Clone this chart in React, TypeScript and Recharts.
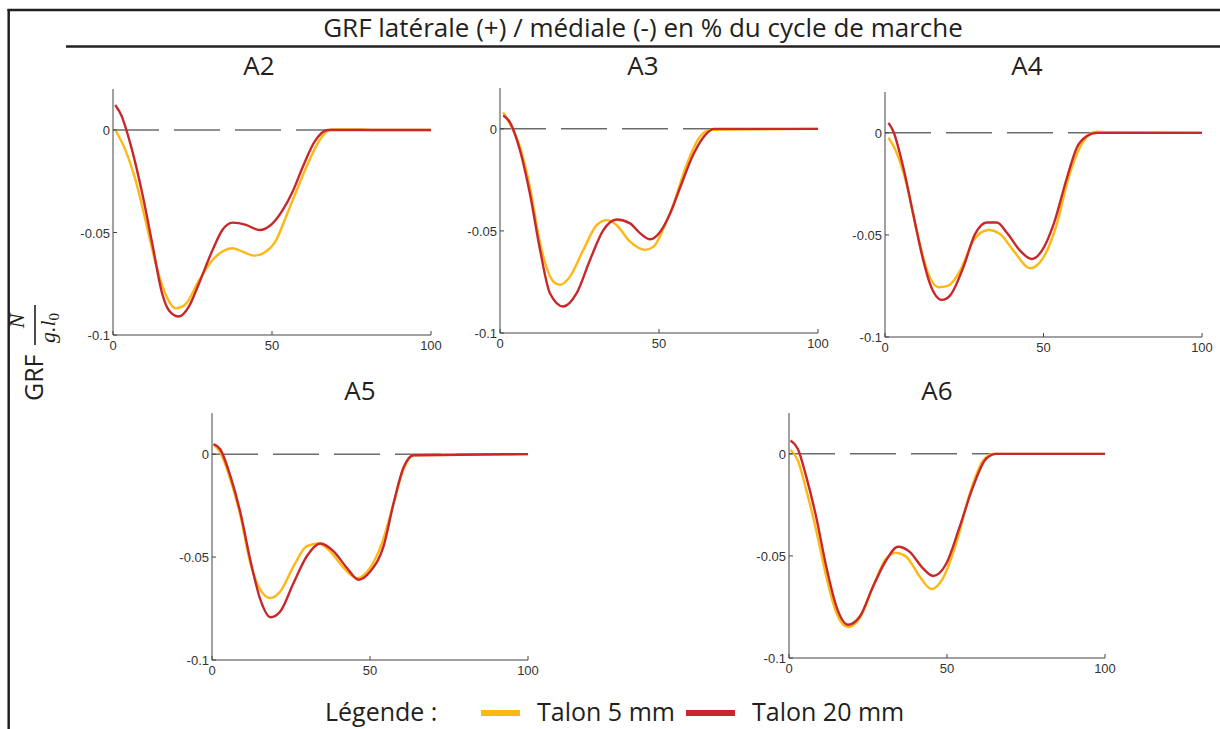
import React from "react";
import { LineChart, Line, XAxis, YAxis, ReferenceLine } from "recharts";

// values: [% gait cycle, GRF]
const A2_TALON5: [number, number][] = [
  [0.7, 0], [3.9, -0.0098], [7, -0.024], [10.2, -0.044], [13.4, -0.065], [16.5, -0.08],
  [19.7, -0.087], [22.8, -0.085], [27, -0.0735], [31.3, -0.0634], [34.4, -0.0593],
  [37.6, -0.0577], [40.7, -0.0593], [44.4, -0.0613], [48.1, -0.0593], [51.3, -0.0537],
  [54.4, -0.0423], [57.6, -0.03], [61.3, -0.0163], [65, -0.0049], [68.6, 0.0003],
  [78, 0.0003], [82, 0], [100, 0],
];
const A2_TALON20: [number, number][] = [
  [0.7, 0.0122], [2.8, 0.0065], [4.2, 0], [6, -0.0098], [9.2, -0.031], [12.3, -0.055],
  [15.5, -0.08], [17.6, -0.088], [20.7, -0.091], [23.9, -0.086], [27, -0.075],
  [31.3, -0.0586], [34.4, -0.0488], [37.6, -0.0452], [41.8, -0.0463], [46, -0.0488],
  [50.2, -0.0455], [53.4, -0.039], [56.5, -0.03], [59.7, -0.0179], [63.4, -0.0057],
  [67.6, 0], [100, 0],
];
const A3_TALON5: [number, number][] = [
  [1, 0.0081], [3.1, 0.0024], [6.3, -0.009], [9.4, -0.0285], [12.6, -0.056], [16.8, -0.0748],
  [18.9, -0.0764], [22, -0.0724], [26.2, -0.0593], [30.4, -0.0472], [33.6, -0.0447],
  [36.7, -0.0472], [40.9, -0.0553], [45.6, -0.0593], [48.3, -0.0577], [51.4, -0.0488],
  [54.6, -0.0366], [58.8, -0.0171], [62.4, -0.0049], [66.1, -0.0005], [100, 0],
];
const A3_TALON20: [number, number][] = [
  [1, 0.0065], [3.1, 0.0033], [6.3, -0.0106], [9.4, -0.0317], [12.6, -0.0593], [15.7, -0.0805],
  [19.9, -0.087], [24.1, -0.0805], [28.3, -0.0642], [32.5, -0.0496], [36.7, -0.0444],
  [40.9, -0.0463], [44.1, -0.0512], [47.2, -0.0541], [50.4, -0.0504], [53.5, -0.0415],
  [56.7, -0.0285], [60.9, -0.0122], [65.1, -0.0021], [67.2, 0], [100, 0],
];
const A4_TALON5: [number, number][] = [
  [1.1, -0.0024], [3.2, -0.0081], [6.8, -0.0252], [10, -0.048], [13.7, -0.0691],
  [16.8, -0.0756], [20, -0.0748], [23.7, -0.0675], [27.9, -0.0528], [32.6, -0.0476],
  [36.3, -0.0496], [40.5, -0.0577], [45.8, -0.0663], [50, -0.061], [54.2, -0.0447],
  [57.9, -0.022], [62.6, -0.0041], [66.8, 0.0005], [70, 0.0003], [100, 0],
];
const A4_TALON20: [number, number][] = [
  [1.1, 0.0049], [2.6, 0.0008], [5.8, -0.0171], [8.9, -0.0398], [12.1, -0.0626],
  [14.2, -0.074], [17.9, -0.0818], [20.5, -0.0797], [24.7, -0.0659], [28.4, -0.0496],
  [32.1, -0.0439], [35.3, -0.0439], [38.4, -0.0488], [42.6, -0.0577], [46.3, -0.0618],
  [49.5, -0.0577], [53.2, -0.0447], [57.4, -0.022], [60.5, -0.0073], [63.7, -0.0016],
  [66.8, 0], [100, 0],
];
const A5_TALON5: [number, number][] = [
  [0.5, 0.0049], [2.6, 0.0008], [5.8, -0.0122], [9, -0.03], [12.1, -0.0528], [15.3, -0.0659],
  [18.5, -0.0699], [21.6, -0.0667], [25.8, -0.0545], [30, -0.0447], [33.8, -0.0434],
  [37.4, -0.0472], [41.7, -0.0553], [45.9, -0.0602], [49.6, -0.0561], [53.8, -0.0431],
  [57.5, -0.0236], [60.6, -0.0073], [63.8, -0.0005], [100, 0],
];
const A5_TALON20: [number, number][] = [
  [0.5, 0.0049], [2.6, 0.0024], [5.8, -0.0106], [9, -0.0285], [12.1, -0.0512], [15.3, -0.0707],
  [18.5, -0.0792], [21.6, -0.0764], [25.8, -0.0626], [30, -0.0496], [34.3, -0.0434],
  [38.5, -0.0472], [42.7, -0.0553], [46.4, -0.061], [50.1, -0.0569], [54.3, -0.0447],
  [57.5, -0.0236], [60.6, -0.0065], [63.8, -0.0005], [100, 0],
];
const A6_TALON5: [number, number][] = [
  [0.5, 0.002], [2.8, -0.0033], [5.5, -0.0179], [8.6, -0.0374], [11.8, -0.0602], [15, -0.078],
  [18.7, -0.0849], [22.4, -0.0805], [26.6, -0.065], [30.8, -0.0512], [33.9, -0.0485],
  [37.1, -0.0504], [41.4, -0.0602], [45, -0.0662], [48.7, -0.061], [52.9, -0.0439],
  [57.2, -0.0195], [61.4, -0.0033], [64.6, 0], [100, 0],
];
const A6_TALON20: [number, number][] = [
  [0.5, 0.0065], [2.8, 0.0024], [5.5, -0.0114], [8.6, -0.0309], [11.8, -0.0553], [15, -0.0748],
  [18.7, -0.0837], [22.4, -0.0797], [26.6, -0.065], [30.8, -0.052], [34.5, -0.0455],
  [38.2, -0.048], [42.4, -0.0561], [45.6, -0.0598], [49.8, -0.0537], [54, -0.0358],
  [58.2, -0.0163], [62.4, -0.0024], [65.6, 0], [100, 0],
];

const X_TICKS = [0, 50, 100];
const Y_TICKS = [-0.1, -0.05, 0];
const TITLE = "GRF latérale (+) / médiale (-) en % du cycle de marche";
const LEGEND_LABELS = ["Talon 5 mm", "Talon 20 mm"];

const YELLOW = "#FDB813";
const RED = "#C8282B";
const AXIS = "#444";
const INK = "#231F20";
const FONT = "'Open Sans', sans-serif";
const MATH = "'Liberation Serif', 'DejaVu Serif', serif";

const toPoints = (arr: [number, number][]) => arr.map(([x, y]) => ({ x, y }));

const XTick = (props: any) => {
  const { x, y, payload } = props;
  return (
    <g>
      <line x1={x} x2={x} y1={y} y2={y - 4} stroke={AXIS} />
      <text x={x} y={y + 15} textAnchor="middle" fontSize={13} fill="#333" fontFamily="'Liberation Sans', Arial">
        {payload.value}
      </text>
    </g>
  );
};

const YTick = (props: any) => {
  const { x, y, payload } = props;
  return (
    <g>
      <line x1={x} x2={x + 4} y1={y} y2={y} stroke={AXIS} />
      <text x={x - 3} y={y + 5} textAnchor="end" fontSize={13} fill="#333" fontFamily="'Liberation Sans', Arial">
        {String(payload.value)}
      </text>
    </g>
  );
};

const ML = 60;
const MT = 10;
const MR = 12;
const MB = 30;

const Panel: React.FC<{
  left: number;
  top: number;
  w: number;
  h: number;
  talon5: [number, number][];
  talon20: [number, number][];
}> = ({ left, top, w, h, talon5, talon20 }) => (
  <div style={{ position: "absolute", left: left - ML, top: top - MT }}>
    <LineChart width={w + ML + MR} height={h + MT + MB} margin={{ top: MT, right: MR, left: 0, bottom: 0 }}>
      <XAxis
        type="number"
        dataKey="x"
        domain={[0, 100]}
        ticks={X_TICKS}
        tick={XTick}
        tickSize={0}
        tickMargin={0}
        tickLine={false}
        height={MB}
        stroke={AXIS}
        allowDataOverflow
      />
      <YAxis
        type="number"
        dataKey="y"
        domain={[-0.1, 0.02]}
        ticks={Y_TICKS}
        tick={YTick}
        tickSize={0}
        tickMargin={0}
        tickLine={false}
        width={ML}
        stroke={AXIS}
        allowDataOverflow
      />
      <ReferenceLine y={0} stroke="#222" strokeWidth={1} strokeDasharray="46 15" />
      <Line data={toPoints(talon5)} dataKey="y" type="monotone" stroke={YELLOW} strokeWidth={2.4} dot={false} isAnimationActive={false} />
      <Line data={toPoints(talon20)} dataKey="y" type="monotone" stroke={RED} strokeWidth={2.4} dot={false} isAnimationActive={false} />
    </LineChart>
  </div>
);

export default function App() {
  return (
    <div style={{ position: "absolute", left: 0, top: 0, width: 1220, height: 729, background: "#fff", overflow: "hidden" }}>
      <svg width={1220} height={729} style={{ position: "absolute", left: 0, top: 0 }} fontFamily={FONT}>
        <line x1={8.7} x2={8.7} y1={9} y2={729} stroke={INK} strokeWidth={2.5} />
        <line x1={7.5} x2={1220} y1={10} y2={10} stroke={INK} strokeWidth={2.3} />
        <line x1={66} x2={1220} y1={46.5} y2={46.5} stroke={INK} strokeWidth={2.3} />
        <text x={643} y={37} textAnchor="middle" fontSize={26} fill={INK}>{TITLE}</text>
        <text x={259} y={75} textAnchor="middle" fontSize={26} fill={INK}>A2</text>
        <text x={643} y={75} textAnchor="middle" fontSize={26} fill={INK}>A3</text>
        <text x={1027} y={75} textAnchor="middle" fontSize={26} fill={INK}>A4</text>
        <text x={360} y={400} textAnchor="middle" fontSize={26} fill={INK}>A5</text>
        <text x={937} y={400} textAnchor="middle" fontSize={26} fill={INK}>A6</text>
        <g transform="translate(43, 401) rotate(-90)">
          <text x={0} y={0} fontSize={25} fill={INK}>GRF</text>
          <line x1={56} x2={96} y1={-8} y2={-8} stroke={INK} strokeWidth={1.6} />
          <text x={80} y={-19} textAnchor="middle" fontSize={22} fontStyle="italic" fontFamily={MATH} fill={INK}>N</text>
          <text x={73} y={12} textAnchor="middle" fontSize={22} fontStyle="italic" fontFamily={MATH} fill={INK}>
            g.l<tspan fontSize={15} dy={4} fontStyle="normal">0</tspan>
          </text>
        </g>
        <text x={325} y={721} fontSize={25} fill={INK}>Légende :</text>
        <line x1={481} x2={520} y1={713} y2={713} stroke={YELLOW} strokeWidth={6} />
        <text x={537} y={721} fontSize={25} fill={INK}>{LEGEND_LABELS[0]}</text>
        <line x1={686} x2={735} y1={713} y2={713} stroke={RED} strokeWidth={6} />
        <text x={752} y={721} fontSize={25} fill={INK}>{LEGEND_LABELS[1]}</text>
      </svg>
      <Panel left={113} top={89} w={318} h={246} talon5={A2_TALON5} talon20={A2_TALON20} />
      <Panel left={500} top={88} w={318} h={245} talon5={A3_TALON5} talon20={A3_TALON20} />
      <Panel left={885} top={92} w={317} h={245} talon5={A4_TALON5} talon20={A4_TALON20} />
      <Panel left={212} top={413} w={316} h={247} talon5={A5_TALON5} talon20={A5_TALON20} />
      <Panel left={789} top={413} w={316} h={245} talon5={A6_TALON5} talon20={A6_TALON20} />
    </div>
  );
}
